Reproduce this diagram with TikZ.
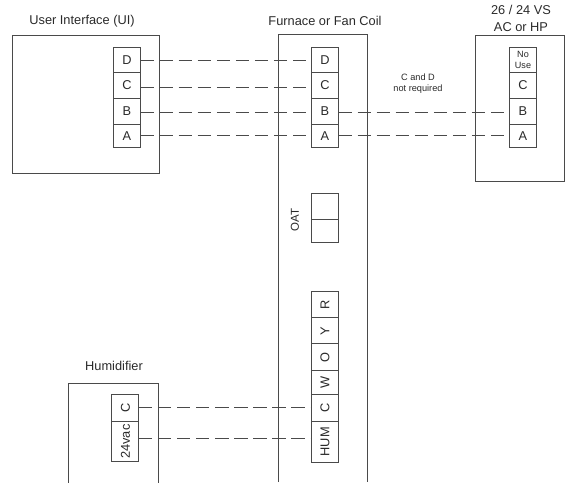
\documentclass[tikz,border=0pt]{standalone}
\usepackage{fontspec}
\setmainfont{Liberation Sans}
\definecolor{ln}{HTML}{4A4A4A}
\definecolor{tx}{HTML}{2A2A2A}
\tikzset{
  x=0.75pt,y=-0.75pt,
  box/.style={draw=ln,line width=0.75pt,fill=none},
  term/.style={draw=ln,line width=0.75pt,fill=white,minimum width=20.25pt,inner sep=0pt,outer sep=0pt,text=tx,font=\fontsize{9.6pt}{11pt}\selectfont},
  vterm/.style={term,rotate=90,minimum width=0pt,minimum height=20.25pt},
  wire/.style={draw=ln,line width=0.75pt,dash pattern=on 10pt off 4.3pt},
  title/.style={text=tx,font=\fontsize{9.6pt}{12.8pt}\selectfont,align=center,inner sep=0pt},
  small/.style={text=tx,font=\fontsize{6.9pt}{8.3pt}\selectfont,align=center,inner sep=0pt},
}
\begin{document}
\begin{tikzpicture}
\useasboundingbox (0,0) rectangle (568,483);
% enclosures
\node[box,anchor=north west,minimum width=110.6pt,minimum height=104.2pt,inner sep=0pt] (ui) at (12,34.5) {};
\node[box,anchor=north west,minimum width=66.6pt,minimum height=110pt,inner sep=0pt] (ac) at (474.7,34.5) {};
\coordinate (fnw) at (278.5,34.5);
\coordinate (fne) at (367.5,34.5);
\coordinate (fsw) at (278.5,482);
\coordinate (fse) at (367.5,482);
\draw[box] (fsw) -- (fnw) -- (fne) -- (fse);
\coordinate (hnw) at (68,383);
\coordinate (hne) at (158.5,383);
\coordinate (hsw) at (68,482.5);
\coordinate (hse) at (158.5,482.5);
\draw[box] (hsw) -- (hnw) -- (hne) -- (hse);
% titles
\node[title] (tui) at (82,21) {User Interface (UI)};
\node[title] (tf) at (325,21) {Furnace or Fan Coil};
\node[title] (tac) at (521,18.5) {26 / 24 VS\\AC or HP};
\node[title] (th) at (114,366) {Humidifier};
\node[small] (note) at (418,83.5) {C and D\\not required};
% UI terminals
\node[term,minimum height=18.4pt] (ud) at (127,59.75) {D};
\node[term,minimum height=19.5pt] (uc) at (127,85) {C};
\node[term,minimum height=19.5pt] (ub) at (127,111) {B};
\node[term,minimum height=17.6pt] (ua) at (127,135.75) {A};
% furnace terminals
\node[term,minimum height=18.4pt] (fd) at (325,59.75) {D};
\node[term,minimum height=19.5pt] (fc) at (325,85) {C};
\node[term,minimum height=19.5pt] (fb) at (325,111) {B};
\node[term,minimum height=17.6pt] (fa) at (325,135.75) {A};
% AC terminals
\node[term,minimum height=18.4pt,font=\fontsize{6.8pt}{8.6pt}\selectfont,align=center] (ad) at (523,59.75) {No\\Use};
\node[term,minimum height=19.5pt] (ac3) at (523,85) {C};
\node[term,minimum height=19.5pt] (ab) at (523,111) {B};
\node[term,minimum height=17.6pt] (aa) at (523,135.75) {A};
% OAT
\node[draw=ln,line width=0.75pt,minimum width=20.25pt,minimum height=19.5pt,inner sep=0pt] (o1) at (325,206.5) {};
\node[draw=ln,line width=0.75pt,minimum width=20.25pt,minimum height=17.6pt,inner sep=0pt] (o2) at (325,231.25) {};
\node[title,rotate=90,font=\fontsize{8.6pt}{10pt}\selectfont] (oat) at (295,220) {OAT};
% furnace low voltage block
\node[vterm,minimum width=19.5pt] (r) at (325,304.5) {R};
\node[vterm,minimum width=20pt] (y) at (325,330.75) {Y};
\node[vterm,minimum width=20pt] (o) at (325,357.25) {O};
\node[vterm,minimum width=18.4pt] (w) at (325,382.75) {W};
\node[vterm,minimum width=20pt] (c) at (325,408.25) {C};
\node[vterm,minimum width=30.4pt] (hum) at (325,441.75) {HUM};
% humidifier terminals
\node[vterm,minimum width=20.25pt] (hc) at (125.4,407.8) {C};
\node[vterm,minimum width=30.5pt] (hv) at (125.4,441.6) {24vac};
% wiring
\draw[wire] ([yshift=-0.6pt]ud.east) -- ([yshift=-0.6pt]fd.west);
\draw[wire] ([yshift=-1.5pt]uc.east) -- ([yshift=-1.5pt]fc.west);
\draw[wire] ([yshift=-1.1pt]ub.east) -- ([yshift=-1.1pt]fb.west);
\draw[wire] (ua.east) -- (fa.west);
\draw[wire] ([yshift=-1.1pt]fb.east) -- ([yshift=-1.1pt]ab.west);
\draw[wire] (fa.east) -- (aa.west);
\draw[wire] (hc.south) -- (hc.south -| c.north);
\draw[wire] ([yshift=2pt]hv.south) -- ([yshift=2pt]hv.south -| hum.north);
\end{tikzpicture}
\end{document}
